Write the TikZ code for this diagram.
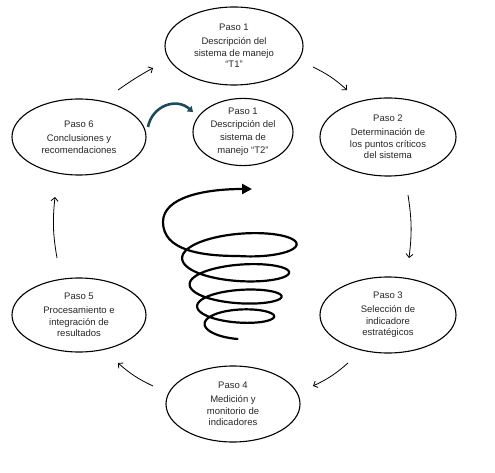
\documentclass[tikz,border=0pt]{standalone}
\usepackage{fontspec}
\setmainfont{Liberation Sans}
\usetikzlibrary{shapes.geometric,arrows.meta}
\definecolor{txt}{HTML}{262626}
\definecolor{tealc}{HTML}{1D4B5C}
\tikzset{
  stepnode/.style={ellipse, draw=black, line width=1.1pt, inner sep=0pt, align=center,
    text=txt, font=\fontsize{9.5}{11.5}\selectfont},
  link/.style={line width=0.8pt, -{Straight Barb[length=3.5pt,width=7pt]}, bend left=8},
  spiral/.style={line width=2.2pt, line cap=round, -{Triangle[length=10pt,width=10pt]}},
  tealarrow/.style={draw=tealc, line width=2.6pt, -{Triangle[length=5pt,width=7pt]}},
}
\begin{document}
\begin{tikzpicture}[x=1pt,y=-1pt]
\path[use as bounding box] (0,0) rectangle (495,473);

\node[stepnode, minimum width=138pt, minimum height=78pt] (p1) at (234,46)
  {Paso 1\\[2.5pt]Descripción del\\sistema de manejo\\“T1”};
\node[stepnode, minimum width=100pt, minimum height=60pt, font=\fontsize{9.5}{13}\selectfont] (p1b) at (243,132)
  {Paso 1\\Descripción del\\sistema de\\manejo “T2”};
\node[stepnode, minimum width=136pt, minimum height=78pt] (p2) at (388,137)
  {Paso 2\\[2.5pt]Determinación de\\los puntos críticos\\del sistema};
\node[stepnode, minimum width=136pt, minimum height=76pt] (p3) at (388,315)
  {Paso 3\\[2.5pt]Selección de\\indicadore\\estratégicos};
\node[stepnode, minimum width=134pt, minimum height=76pt] (p4) at (233,404)
  {Paso 4\\[2.5pt]Medición y\\monitorio de\\indicadores};
\node[stepnode, minimum width=134pt, minimum height=74pt] (p5) at (79,315)
  {Paso 5\\[2.5pt]Procesamiento e\\integración de\\resultados};
\node[stepnode, minimum width=134pt, minimum height=76pt] (p6) at (79,137)
  {Paso 6\\[2.5pt]Conclusiones y\\recomendaciones};

% connector end points
\coordinate (c12s) at (313,67);  \coordinate (c12e) at (347,90);
\coordinate (c23s) at (408,195); \coordinate (c23e) at (409,258);
\coordinate (c34s) at (348,363); \coordinate (c34e) at (313,386);
\coordinate (c45s) at (153,386); \coordinate (c45e) at (118,363);
\coordinate (c56s) at (57,258);  \coordinate (c56e) at (55,197);
\coordinate (c61s) at (118,90);  \coordinate (c61e) at (153,68);
\coordinate (t6s) at (148,127);  \coordinate (t2e) at (193,112);

\draw[link] (c12s) to (c12e);
\draw[link] (c23s) to (c23e);
\draw[link] (c34s) to (c34e);
\draw[link] (c45s) to (c45e);
\draw[link] (c56s) to (c56e);
\draw[link, bend left=3] (c61s) to (c61e);

\draw[tealarrow] (t6s) .. controls (152,106) and (176,97) .. (t2e);

% spiral
\draw[spiral] plot[domain=0:4, samples=360, variable=\t, smooth]
  ({237.5 + (31+7.5*\t)*cos(90+360*\t)},
   {290.66 - 23*(\t-2) - 2.125*(\t-2)^2 + (10.7+0.15*(\t-0.5)+0.7*(\t-0.5)^2)*sin(90+360*\t)})
  .. controls (200,256) and (163,250) .. (163,222)
  .. controls (163,197) and (205,189) .. (252,189);
\end{tikzpicture}
\end{document}
